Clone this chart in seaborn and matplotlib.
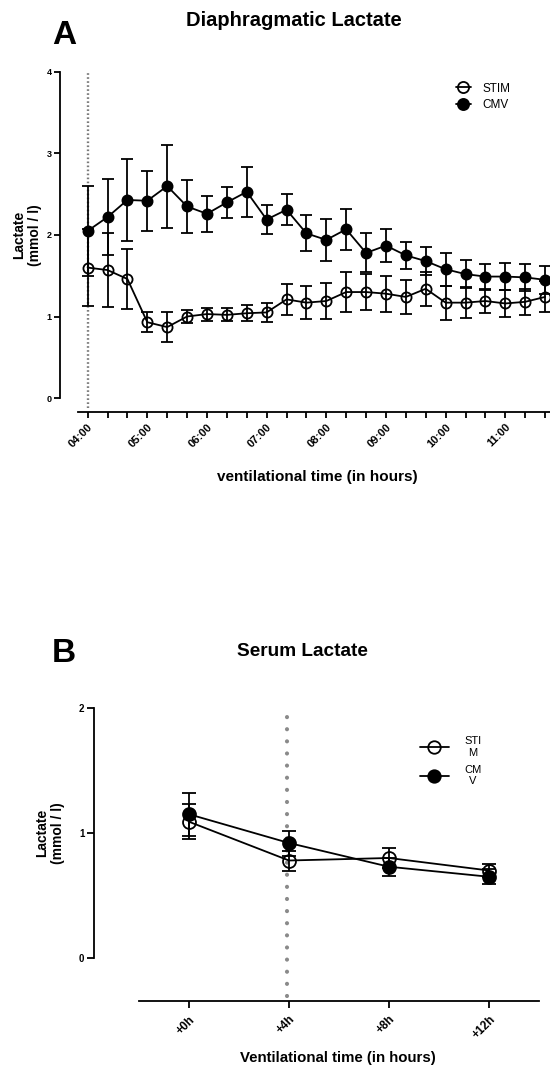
import matplotlib
matplotlib.use("Agg")
import matplotlib.pyplot as plt
from matplotlib.lines import Line2D
import numpy as np
import pandas as pd
import seaborn as sns

# ---------------- Data ----------------
# Panel A: diaphragmatic lactate (mmol/l), every 20 min
times_a = ["04:00", "04:20", "04:40", "05:00", "05:20", "05:40", "06:00", "06:20",
           "06:40", "07:00", "07:20", "07:40", "08:00", "08:20", "08:40", "09:00",
           "09:20", "09:40", "10:00", "10:20", "10:40", "11:00", "11:20", "11:40"]
cmv_a = [2.05, 2.22, 2.43, 2.42, 2.60, 2.35, 2.26, 2.40, 2.53, 2.19, 2.31, 2.02,
         1.94, 2.07, 1.78, 1.87, 1.75, 1.68, 1.58, 1.52, 1.49, 1.49, 1.48, 1.45]
cmv_a_err = [0.55, 0.47, 0.50, 0.37, 0.51, 0.33, 0.22, 0.19, 0.31, 0.18, 0.19, 0.22,
             0.26, 0.25, 0.24, 0.20, 0.17, 0.17, 0.20, 0.17, 0.16, 0.17, 0.17, 0.17]
stim_a = [1.60, 1.57, 1.46, 0.93, 0.87, 1.00, 1.03, 1.02, 1.04, 1.05, 1.21, 1.17,
          1.19, 1.30, 1.30, 1.28, 1.24, 1.34, 1.17, 1.17, 1.19, 1.16, 1.18, 1.24]
stim_a_err = [0.47, 0.45, 0.37, 0.12, 0.18, 0.08, 0.08, 0.08, 0.10, 0.12, 0.19, 0.20,
              0.22, 0.25, 0.22, 0.22, 0.21, 0.21, 0.21, 0.19, 0.15, 0.16, 0.16, 0.19]
xticklabels_a = ["04:00", "05:00", "06:00", "07:00", "08:00", "09:00", "10:00", "11:00"]

# Panel B: serum lactate (mmol/l)
labels_b = ["+0h", "+4h", "+8h", "+12h"]
hours_b = [0, 4, 8, 12]
stim_b = [1.09, 0.78, 0.80, 0.70]
stim_b_err = [0.14, 0.08, 0.08, 0.05]
cmv_b = [1.15, 0.92, 0.73, 0.65]
cmv_b_err = [0.17, 0.10, 0.07, 0.06]

# ---------------- Style ----------------
sns.set_theme(style="ticks")
plt.rcParams["font.family"] = ["Liberation Sans", "DejaVu Sans"]
plt.rcParams["font.weight"] = "bold"
for k in ["text.color", "axes.labelcolor", "xtick.color", "ytick.color",
          "axes.edgecolor"]:
    plt.rcParams[k] = "black"
plt.rcParams["axes.linewidth"] = 1.3
plt.rcParams["xtick.major.width"] = 1.3
plt.rcParams["ytick.major.width"] = 1.3

W, H = 550, 1067
DPI = 100
PX = 72.0 / DPI  # points per pixel
fig = plt.figure(figsize=(W / DPI, H / DPI), dpi=DPI)


def px_axes(x0, y0, x1, y1):
    return fig.add_axes([x0 / W, 1 - y1 / H, (x1 - x0) / W, (y1 - y0) / H])


def to_min(t):
    h, m = t.split(":")
    return (int(h) - 4) * 60 + int(m)


df_a = pd.DataFrame({
    "t": [to_min(t) for t in times_a] * 2,
    "val": stim_a + cmv_a,
    "err": stim_a_err + cmv_a_err,
    "group": ["STIM"] * len(times_a) + ["CMV"] * len(times_a),
})

# ---------------- Panel A ----------------
axA = px_axes(77.7, 72, 555, 398)
for grp, face in [("STIM", "none"), ("CMV", "black")]:
    d = df_a[df_a.group == grp]
    axA.errorbar(d.t, d.val, yerr=d.err, fmt="none", ecolor="black",
                 elinewidth=1.3, capsize=4.6, capthick=1.3, zorder=2)
    sns.lineplot(data=d, x="t", y="val", ax=axA, color="black", lw=1.3,
                 marker="o", markersize=7.3, markerfacecolor=face,
                 markeredgecolor="black", markeredgewidth=1.3, zorder=3,
                 legend=False, errorbar=None)

axA.axvline(0, ymin=-0.03, ymax=1.0, color="#7a7a7a", lw=1.7,
            linestyle=(0, (0.7, 1.0)), zorder=1, clip_on=False)
axA.set_xlim(-10, 470)
axA.set_ylim(0, 4)
for s in ["top", "right"]:
    axA.spines[s].set_visible(False)
axA.spines["left"].set_position(("outward", 18 * PX))
axA.spines["bottom"].set_position(("outward", 14 * PX))
axA.tick_params(axis="both", length=4, width=1.3, pad=2)
axA.tick_params(axis="x", pad=3)
axA.set_yticks([0, 1, 2, 3, 4])
axA.set_yticklabels(["0", "1", "2", "3", "4"], fontsize=6.5, fontweight="bold")
axA.set_xticks(np.arange(0, 461, 20))
lab = []
for v in np.arange(0, 461, 20):
    lab.append(xticklabels_a[v // 60] if v % 60 == 0 else "")
axA.set_xticklabels(lab, fontsize=8, fontweight="bold", rotation=45,
                    ha="right", rotation_mode="anchor")
axA.set_ylabel("Lactate\n(mmol / l)", fontsize=10, fontweight="bold", va="center")
axA.yaxis.set_label_coords(-(77.7 - 27) / (555 - 77.7), 0.5)
axA.set_xlabel("ventilational time (in hours)", fontsize=11, fontweight="bold",
               va="center")
axA.xaxis.set_label_coords((317 - 77.7) / (555 - 77.7), -(477 - 398) / 326.0)

hA = [Line2D([], [], color="black", lw=1.3, marker="o", markersize=8,
             markerfacecolor="none", markeredgewidth=1.3),
      Line2D([], [], color="black", lw=1.3, marker="o", markersize=8,
             markerfacecolor="black", markeredgewidth=1.3)]
fig.legend(hA, ["STIM", "CMV"], loc="upper left",
           bbox_to_anchor=(445 / W, 1 - 72 / H), frameon=False,
           handlelength=1.3, handletextpad=1.0, labelspacing=0.4,
           prop={"weight": "normal", "size": 8.5})

fig.text(294 / W, 1 - 20 / H, "Diaphragmatic Lactate", ha="center", va="center",
         fontsize=14.5, fontweight="bold")
fig.text(52 / W, 1 - 36 / H, "A", ha="left", va="center", fontsize=24,
         fontweight="bold")

# ---------------- Panel B ----------------
df_b = pd.DataFrame({
    "h": hours_b * 2,
    "val": stim_b + cmv_b,
    "err": stim_b_err + cmv_b_err,
    "group": ["STIM"] * 4 + ["CMV"] * 4,
})
axB = px_axes(139, 708, 539, 958)
axB.axvline(3.9, ymin=-0.152, ymax=0.98, color="#8a8a8a", lw=3.0,
            linestyle=(0, (0.01, 2.9)), dash_capstyle="round",
            solid_capstyle="round", zorder=1, clip_on=False)
for grp, face in [("STIM", "none"), ("CMV", "black")]:
    d = df_b[df_b.group == grp]
    axB.errorbar(d.h, d.val, yerr=d.err, fmt="none", ecolor="black",
                 elinewidth=1.3, capsize=5, capthick=1.3, zorder=2)
    sns.lineplot(data=d, x="h", y="val", ax=axB, color="black", lw=1.3,
                 marker="o", markersize=9.3, markerfacecolor=face,
                 markeredgecolor="black", markeredgewidth=1.3, zorder=3,
                 legend=False, errorbar=None)
axB.set_xlim(-2, 14)
axB.set_ylim(0, 2)
for s in ["top", "right"]:
    axB.spines[s].set_visible(False)
axB.spines["left"].set_position(("outward", 45 * PX))
axB.spines["bottom"].set_position(("outward", 43 * PX))
axB.tick_params(axis="both", length=5, width=1.3, pad=2)
axB.tick_params(axis="x", pad=4)
axB.set_yticks([0, 1, 2])
axB.set_yticklabels(["0", "1", "2"], fontsize=7, fontweight="bold")
axB.set_xticks(hours_b)
axB.set_xticklabels(labels_b, fontsize=8.5, fontweight="bold", rotation=45,
                    ha="right", rotation_mode="anchor")
axB.set_ylabel("Lactate\n(mmol / l)", fontsize=10, fontweight="bold", va="center")
axB.yaxis.set_label_coords(-(139 - 50) / 400.0, 0.5)
axB.set_xlabel("Ventilational time (in hours)", fontsize=10.8, fontweight="bold",
               va="center")
axB.xaxis.set_label_coords((338 - 139) / 400.0, -(1058 - 958) / 250.0)

hB = [Line2D([], [], color="black", lw=1.3, marker="o", markersize=9,
             markerfacecolor="none", markeredgewidth=1.3),
      Line2D([], [], color="black", lw=1.3, marker="o", markersize=9,
             markerfacecolor="black", markeredgewidth=1.3)]
fig.legend(hB, ["STI\nM", "CM\nV"], loc="upper left",
           bbox_to_anchor=(410 / W, 1 - 726 / H), frameon=False,
           handlelength=2.6, handletextpad=1.4, labelspacing=0.65,
           prop={"weight": "normal", "size": 8})
for t in fig.legends[-1].get_texts():
    t.set_ha("center")

fig.text(302 / W, 1 - 651 / H, "Serum Lactate", ha="center", va="center",
         fontsize=13.7, fontweight="bold")
fig.text(52 / W, 1 - 654 / H, "B", ha="left", va="center", fontsize=24,
         fontweight="bold")

fig.savefig("out.png", dpi=DPI)
